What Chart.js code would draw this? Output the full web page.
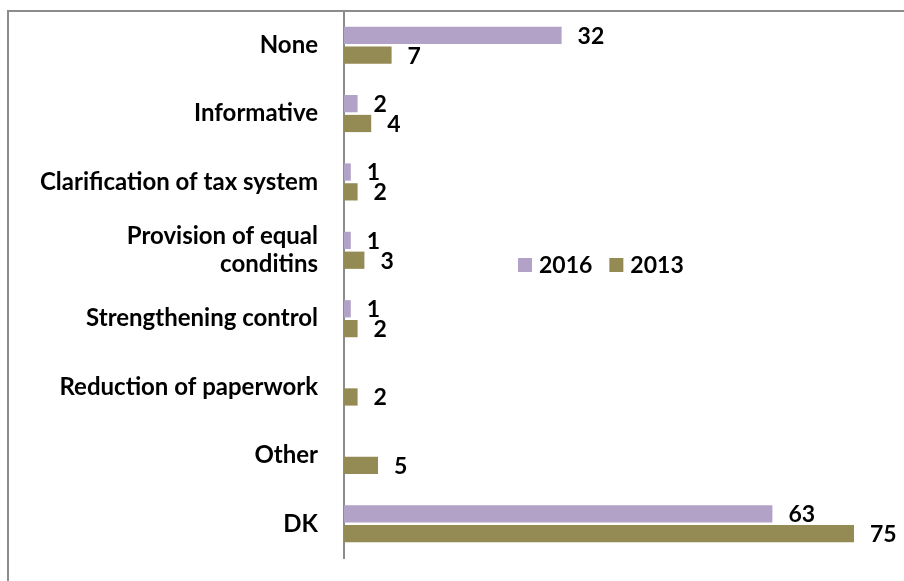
<!DOCTYPE html>
<html>
<head>
<meta charset="utf-8">
<script src="https://cdn.jsdelivr.net/npm/chart.js@4/dist/chart.umd.min.js"></script>
<style>
  body { margin: 0; background: #fff; overflow: hidden; }
  .wrap { position: relative; width: 904px; height: 581px; }
  .frame { position: absolute; left: 7px; top: 10px; width: 1000px; height: 1000px; border: 2px solid #8c8c8c; }
  canvas { position: absolute; left: 0; top: 0; }
</style>
</head>
<body>
<div class="wrap">
  <div class="frame"></div>
  <canvas id="myChart" width="904" height="581"></canvas>
</div>
<script>
const categories = [
    'None',
    'Informative',
    'Clarification of tax system',
    ['Provision of equal', 'conditins'],
    'Strengthening control',
    'Reduction of paperwork',
    'Other',
    'DK'
];
const seriesNames = ['2016', '2013'];
const values2016 = [32, 2, 1, 1, 1, null, null, 63];
const values2013 = [7, 4, 2, 3, 2, 2, 5, 75];

const FONT = 'Lato, "Open Sans", sans-serif';

// value labels at the end of each bar
const barLabels = {
    id: 'barLabels',
    afterDatasetsDraw(chart) {
        const ctx = chart.ctx;
        ctx.save();
        ctx.font = 'bold 23px ' + FONT;
        ctx.fillStyle = '#000';
        ctx.textAlign = 'left';
        ctx.textBaseline = 'middle';
        chart.data.datasets.forEach((ds, i) => {
            const meta = chart.getDatasetMeta(i);
            meta.data.forEach((bar, j) => {
                const v = ds.data[j];
                if (v === null || v === undefined) return;
                ctx.fillText(String(v), bar.x + 16, bar.y + 1);
            });
        });
        ctx.restore();
    }
};

// legend sitting inside the plot, to the right of the short bars
const innerLegend = {
    id: 'innerLegend',
    afterDraw(chart) {
        const ctx = chart.ctx;
        ctx.save();
        ctx.font = 'bold 23px ' + FONT;
        ctx.textBaseline = 'middle';
        ctx.textAlign = 'left';
        let x = 518;
        const y = 265;
        chart.data.datasets.forEach(ds => {
            ctx.fillStyle = ds.backgroundColor;
            ctx.fillRect(x, y - 7, 14, 14);
            ctx.fillStyle = '#000';
            ctx.fillText(ds.label, x + 21, y + 1);
            x += 21 + ctx.measureText(ds.label).width + 17;
        });
        ctx.restore();
    }
};

const data = {
    labels: categories,
    datasets: [{
        label: seriesNames[0],
        backgroundColor: '#B3A2C7',
        data: values2016
    }, {
        label: seriesNames[1],
        backgroundColor: '#948A54',
        data: values2013
    }]
};

const ctx = document.getElementById('myChart').getContext('2d');

const myChart = new Chart(ctx, {
    type: 'bar',
    data: data,
    plugins: [barLabels, innerLegend],
    options: {
        indexAxis: 'y',
        responsive: false,
        animation: false,
        categoryPercentage: 0.58,
        barPercentage: 0.87,
        layout: {
            padding: { top: 11, right: 16, bottom: 23, left: 0 }
        },
        plugins: {
            legend: { display: false },
            tooltip: { enabled: false }
        },
        scales: {
            x: {
                display: false,
                min: 0,
                max: 80
            },
            y: {
                afterFit(scale) {
                    scale.width = 344;
                    // tick padding should only push labels sideways
                    scale.paddingTop = 0;
                    scale.paddingBottom = 0;
                },
                grid: { display: false, drawTicks: false },
                border: { display: true, color: '#8c8c8c', width: 2 },
                ticks: {
                    padding: 26,
                    color: '#000',
                    font: { family: FONT, size: 24, weight: 'bold', lineHeight: 1.18 }
                }
            }
        }
    }
});
</script>
</body>
</html>
